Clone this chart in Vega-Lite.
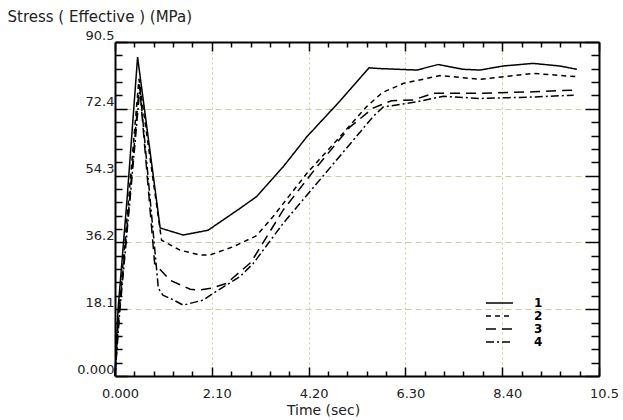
{
  "$schema": "https://vega.github.io/schema/vega-lite/v6.json",
  "width": 484,
  "height": 334,
  "autosize": {"type": "none"},
  "padding": {"left": 115, "top": 42, "right": 24, "bottom": 44},
  "background": "white",
  "config": {
    "view": {"stroke": null},
    "axis": {"labelFont": "DejaVu Sans", "titleFont": "DejaVu Sans", "labelColor": "#222", "titleColor": "#222", "titleFontWeight": "normal"}
  },
  "data": {"values": [
    {"s":"1","t":0,"v":0},{"s":"1","t":0.065,"v":17.9},{"s":"1","t":0.26,"v":47.7},{"s":"1","t":0.49,"v":86.4},{"s":"1","t":0.98,"v":40.1},{"s":"1","t":1.48,"v":38.2},{"s":"1","t":2.02,"v":39.5},{"s":"1","t":2.71,"v":45.4},{"s":"1","t":3.07,"v":48.6},{"s":"1","t":3.65,"v":56.7},{"s":"1","t":4.16,"v":64.8},{"s":"1","t":4.88,"v":74.5},{"s":"1","t":5.51,"v":83.5},{"s":"1","t":5.75,"v":83.3},{"s":"1","t":6.55,"v":82.9},{"s":"1","t":7.01,"v":84.4},{"s":"1","t":7.55,"v":83.1},{"s":"1","t":7.92,"v":82.9},{"s":"1","t":8.42,"v":84.0},{"s":"1","t":9.07,"v":84.7},{"s":"1","t":9.65,"v":84.0},{"s":"1","t":10.02,"v":83.1},
    {"s":"2","t":0,"v":0},{"s":"2","t":0.08,"v":17},{"s":"2","t":0.29,"v":47},{"s":"2","t":0.52,"v":80.5},{"s":"2","t":1.01,"v":36.8},{"s":"2","t":1.41,"v":34.1},{"s":"2","t":1.84,"v":32.8},{"s":"2","t":2.06,"v":32.8},{"s":"2","t":2.56,"v":35.0},{"s":"2","t":3.07,"v":38.0},{"s":"2","t":3.43,"v":43.2},{"s":"2","t":4.16,"v":54.9},{"s":"2","t":4.88,"v":64.8},{"s":"2","t":5.46,"v":73.0},{"s":"2","t":5.8,"v":76.8},{"s":"2","t":6.26,"v":79.3},{"s":"2","t":7.05,"v":81.4},{"s":"2","t":7.92,"v":80.4},{"s":"2","t":9.07,"v":82.0},{"s":"2","t":10.01,"v":81.1},
    {"s":"3","t":0,"v":0},{"s":"3","t":0.09,"v":17},{"s":"3","t":0.31,"v":47},{"s":"3","t":0.53,"v":79},{"s":"3","t":0.86,"v":30.5},{"s":"3","t":1.19,"v":26.0},{"s":"3","t":1.63,"v":23.5},{"s":"3","t":1.84,"v":23.3},{"s":"3","t":2.1,"v":23.8},{"s":"3","t":2.42,"v":25.1},{"s":"3","t":2.95,"v":30.8},{"s":"3","t":3.65,"v":45.0},{"s":"3","t":4.38,"v":56.7},{"s":"3","t":5.1,"v":67.5},{"s":"3","t":5.6,"v":72.6},{"s":"3","t":6.0,"v":74.6},{"s":"3","t":6.47,"v":74.8},{"s":"3","t":6.91,"v":76.6},{"s":"3","t":7.92,"v":76.6},{"s":"3","t":9.07,"v":77.0},{"s":"3","t":10.01,"v":77.5},
    {"s":"4","t":0,"v":0},{"s":"4","t":0.1,"v":17},{"s":"4","t":0.32,"v":47},{"s":"4","t":0.54,"v":78},{"s":"4","t":0.94,"v":23.8},{"s":"4","t":1.04,"v":21.9},{"s":"4","t":1.27,"v":20.6},{"s":"4","t":1.48,"v":19.2},{"s":"4","t":1.92,"v":20.6},{"s":"4","t":2.13,"v":22.4},{"s":"4","t":2.71,"v":26.9},{"s":"4","t":3.0,"v":30.5},{"s":"4","t":3.65,"v":41.4},{"s":"4","t":4.38,"v":52.2},{"s":"4","t":5.17,"v":63.9},{"s":"4","t":5.6,"v":70.3},{"s":"4","t":5.82,"v":72.9},{"s":"4","t":6.55,"v":74.3},{"s":"4","t":7.12,"v":75.8},{"s":"4","t":7.92,"v":75.2},{"s":"4","t":9.07,"v":75.6},{"s":"4","t":9.95,"v":76.1}
  ]},
  "resolve": {"axis": {"x": "independent", "y": "independent"}},
  "layer": [
    {
      "mark": {"type": "line", "color": "black", "strokeWidth": 1.5},
      "encoding": {
        "x": {"field": "t", "type": "quantitative", "scale": {"domain": [0, 10.5], "nice": false, "zero": false},
          "axis": {"orient": "bottom", "title": "Time (sec)", "titleFontSize": 14, "titleX": 208, "titleY": 34, "titleBaseline": "middle", "titleAlign": "center",
            "values": [0,0.42,0.84,1.26,1.68,2.1,2.52,2.94,3.36,3.78,4.2,4.62,5.04,5.46,5.88,6.3,6.72,7.14,7.56,7.98,8.4,8.82,9.24,9.66,10.08,10.5],
            "labelExpr": "abs(datum.value/2.1 - round(datum.value/2.1)) < 0.001 ? (datum.value == 0 ? '0.000' : (datum.value > 10 ? '10.5' : format(datum.value, '.2f'))) : ''",
            "labelFontSize": 13, "labelOverlap": false, "labelFlush": false, "labelPadding": 20, "labelOffset": 5,
            "tickColor": "black", "tickWidth": 1.5,
            "tickSize": {"condition": {"test": "abs(datum.value/2.1 - round(datum.value/2.1)) < 0.001", "value": -9}, "value": -5},
            "domainColor": "black", "domainWidth": 2,
            "grid": true, "gridColor": "#cdcd9e", "gridDash": [2, 3], "gridWidth": 1,
            "gridOpacity": {"condition": {"test": "abs(datum.value/2.1 - round(datum.value/2.1)) < 0.001", "value": 1}, "value": 0}
          }},
        "y": {"field": "v", "type": "quantitative", "scale": {"domain": [0, 90.5], "nice": false},
          "axis": {"orient": "left", "title": "Stress ( Effective )  (MPa)", "titleFontSize": 15, "titleAngle": 0, "titleX": -108, "titleY": -26, "titleAlign": "left", "titleBaseline": "middle",
            "values": [0,3.62,7.24,10.86,14.48,18.1,21.72,25.34,28.96,32.58,36.2,39.82,43.44,47.06,50.68,54.3,57.92,61.54,65.16,68.78,72.4,76.02,79.64,83.26,86.88,90.5],
            "labelExpr": "abs(datum.value/18.1 - round(datum.value/18.1)) < 0.001 ? (datum.value == 0 ? '0.000' : format(datum.value, '.1f')) : ''",
            "labelFontSize": 13, "labelOverlap": false, "labelFlush": false, "labelPadding": 13, "labelBaseline": "middle", "labelOffset": -7,
            "tickColor": "black", "tickWidth": 1.5,
            "tickSize": {"condition": {"test": "abs(datum.value/18.1 - round(datum.value/18.1)) < 0.001", "value": -12}, "value": -7},
            "domainColor": "black", "domainWidth": 2,
            "grid": true, "gridColor": "#cdcd9e", "gridDash": [6, 4], "gridWidth": 1,
            "gridOpacity": {"condition": {"test": "abs(datum.value/18.1 - round(datum.value/18.1)) < 0.001", "value": 1}, "value": 0}
          }},
        "strokeDash": {"field": "s", "type": "nominal",
          "scale": {"domain": ["1", "2", "3", "4"], "range": [[1, 0], [5, 4], [10, 6], [8, 3, 2, 3]]},
          "legend": {"orient": "none", "legendX": 378.5, "legendY": 255, "title": null, "symbolType": "M-2.7,0H2.7", "symbolSize": 100, "symbolStrokeWidth": 1.5, "symbolStrokeColor": "black", "labelFont": "DejaVu Sans", "labelFontWeight": "bold", "labelFontSize": 12, "labelColor": "black", "labelOffset": 28.5, "rowPadding": 1, "padding": 0}}
      }
    },
    {
      "mark": {"type": "point", "opacity": 0},
      "encoding": {
        "x": {"field": "t", "type": "quantitative", "scale": {"domain": [0, 10.5], "nice": false, "zero": false},
          "axis": {"orient": "top", "title": null, "labels": false, "grid": false,
            "values": [0,0.42,0.84,1.26,1.68,2.1,2.52,2.94,3.36,3.78,4.2,4.62,5.04,5.46,5.88,6.3,6.72,7.14,7.56,7.98,8.4,8.82,9.24,9.66,10.08,10.5],
            "tickColor": "black", "tickWidth": 1.5,
            "tickSize": {"condition": {"test": "abs(datum.value/2.1 - round(datum.value/2.1)) < 0.001", "value": -9}, "value": -5},
            "domainColor": "black", "domainWidth": 2}},
        "y": {"field": "v", "type": "quantitative", "scale": {"domain": [0, 90.5], "nice": false},
          "axis": {"orient": "right", "title": null, "labels": false, "grid": false,
            "values": [0,3.62,7.24,10.86,14.48,18.1,21.72,25.34,28.96,32.58,36.2,39.82,43.44,47.06,50.68,54.3,57.92,61.54,65.16,68.78,72.4,76.02,79.64,83.26,86.88,90.5],
            "tickColor": "black", "tickWidth": 1.5,
            "tickSize": {"condition": {"test": "abs(datum.value/18.1 - round(datum.value/18.1)) < 0.001", "value": -14}, "value": -8},
            "domainColor": "black", "domainWidth": 2}}
      }
    }
  ]
}
